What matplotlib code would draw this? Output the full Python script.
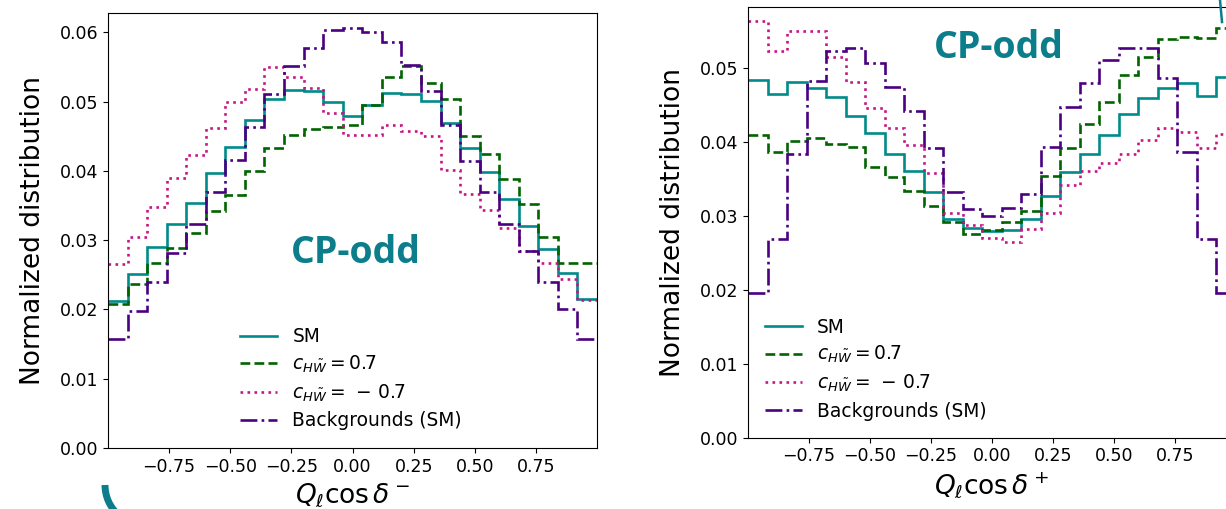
import matplotlib
matplotlib.use('Agg')
import matplotlib.pyplot as plt
import numpy as np
from matplotlib.patches import Arc
from matplotlib.lines import Line2D

# bin edges shared by both panels (25 bins on [-1, 1])
edges = np.linspace(-1.0, 1.0, 26)

# left panel: Q_l cos(delta^-)
sm_minus = [0.0212, 0.0251, 0.0290, 0.0324, 0.0354, 0.0397, 0.0434, 0.0473, 0.0504, 0.0517,
            0.0516, 0.0500, 0.0480, 0.0495, 0.0512, 0.0511, 0.0501, 0.0469, 0.0433, 0.0398,
            0.0360, 0.0320, 0.0288, 0.0252, 0.0215]
pos_minus = [0.0208, 0.0237, 0.0267, 0.0289, 0.0310, 0.0342, 0.0365, 0.0400, 0.0433, 0.0452,
             0.0461, 0.0463, 0.0466, 0.0495, 0.0536, 0.0552, 0.0527, 0.0504, 0.0451, 0.0424,
             0.0389, 0.0352, 0.0305, 0.0267, 0.0267]
neg_minus = [0.0265, 0.0305, 0.0348, 0.0390, 0.0423, 0.0462, 0.0499, 0.0519, 0.0550, 0.0535,
             0.0520, 0.0483, 0.0452, 0.0452, 0.0466, 0.0457, 0.0451, 0.0401, 0.0367, 0.0343,
             0.0318, 0.0285, 0.0267, 0.0244, 0.0213]
bkg_minus = [0.0157, 0.0198, 0.0240, 0.0282, 0.0323, 0.0369, 0.0416, 0.0464, 0.0511, 0.0551,
             0.0577, 0.0603, 0.0606, 0.0600, 0.0586, 0.0553, 0.0516, 0.0467, 0.0414, 0.0370,
             0.0324, 0.0285, 0.0240, 0.0200, 0.0158]

# right panel: Q_l cos(delta^+)
sm_plus = [0.0483, 0.0465, 0.0481, 0.0473, 0.0460, 0.0435, 0.0412, 0.0384, 0.0361, 0.0332,
           0.0295, 0.0284, 0.0279, 0.0280, 0.0296, 0.0327, 0.0359, 0.0384, 0.0409, 0.0437,
           0.0459, 0.0473, 0.0479, 0.0462, 0.0487]
pos_plus = [0.0409, 0.0386, 0.0401, 0.0405, 0.0397, 0.0393, 0.0366, 0.0352, 0.0333, 0.0313,
            0.0291, 0.0275, 0.0281, 0.0292, 0.0307, 0.0353, 0.0391, 0.0424, 0.0453, 0.0490,
            0.0514, 0.0539, 0.0541, 0.0540, 0.0553]
neg_plus = [0.0563, 0.0523, 0.0549, 0.0550, 0.0515, 0.0481, 0.0446, 0.0418, 0.0396, 0.0358,
            0.0303, 0.0288, 0.0270, 0.0264, 0.0282, 0.0303, 0.0342, 0.0361, 0.0371, 0.0383,
            0.0402, 0.0418, 0.0413, 0.0392, 0.0411]
bkg_plus = [0.0195, 0.0268, 0.0384, 0.0482, 0.0522, 0.0526, 0.0507, 0.0474, 0.0442, 0.0391,
            0.0332, 0.0309, 0.0300, 0.0311, 0.0329, 0.0393, 0.0447, 0.0479, 0.0510, 0.0526,
            0.0527, 0.0486, 0.0386, 0.0269, 0.0195]

labels = ['SM', r'$c_{H\tilde{W}} = 0.7$', r'$c_{H\tilde{W}} =\,-\,0.7$', 'Backgrounds (SM)']
colors = ['darkcyan', 'darkgreen', 'mediumvioletred', 'indigo']
styles = ['-', '--', ':', '-.']
xticks = [-0.75, -0.5, -0.25, 0.0, 0.25, 0.5, 0.75]

TEAL = '#0b7d8b'


def draw_panel(ax, series, xlabel, ymax, yticks, leg_anchor, cp_pos):
    for vals, lab, c, ls in zip(series, labels, colors, styles):
        ax.stairs(vals, edges, baseline=None, color=c, linestyle=ls, lw=1.9, label=lab)
    ax.set_xlim(-1, 1)
    ax.set_ylim(0, ymax)
    ax.set_xticks(xticks)
    ax.set_yticks(yticks)
    ax.tick_params(labelsize=12.5)
    ax.set_xlabel(xlabel, fontsize=19)
    ax.set_ylabel('Normalized distribution', fontsize=19, labelpad=10)
    ax.legend(loc='lower left', bbox_to_anchor=leg_anchor, frameon=False,
              fontsize=13.4, labelspacing=0.4, handlelength=2.0)
    ax.text(cp_pos[0], cp_pos[1], 'CP-odd', transform=ax.transAxes, ha='center', va='center',
            fontsize=27, fontweight='bold', family=['Open Sans', 'DejaVu Sans'], color=TEAL)


fig = plt.figure(figsize=(12.26, 5.09), dpi=100)
ax1 = fig.add_axes([108 / 1226, 61 / 509, 489 / 1226, 435 / 509])
ax2 = fig.add_axes([748 / 1226, 71.3 / 509, 488 / 1226, 430.7 / 509])

draw_panel(ax1, [sm_minus, pos_minus, neg_minus, bkg_minus], r'$Q_\ell \cos\delta^-$',
           0.0628, [0, 0.01, 0.02, 0.03, 0.04, 0.05, 0.06], (0.236, 0.002), (0.507, 0.448))
draw_panel(ax2, [sm_plus, pos_plus, neg_plus, bkg_plus], r'$Q_\ell \cos\delta^+$',
           0.0582, [0, 0.01, 0.02, 0.03, 0.04, 0.05], (0.0, 0.001), (0.514, 0.905))

# slide decorations (teal arcs)
fig.add_artist(Arc((145 / 1226, 24 / 509), 2 * 40 / 1226, 2 * 40 / 509, theta1=180, theta2=250,
                   transform=fig.transFigure, color=TEAL, lw=5, zorder=10))
fig.add_artist(Line2D([1220 / 1226, 1222 / 1226], [1.0, 487 / 509], transform=fig.transFigure,
                      color=TEAL, lw=1.8, zorder=10))

fig.savefig('out.png', dpi=100)
